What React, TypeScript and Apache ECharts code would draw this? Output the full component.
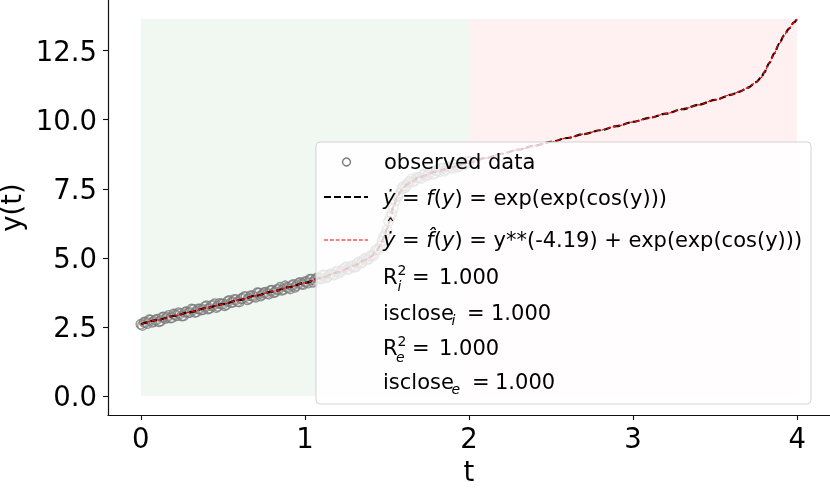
import React, { useEffect, useRef } from "react";
import * as echarts from "echarts";

const xTicks = [0, 1, 2, 3, 4];
const yTicks = [0, 2.5, 5, 7.5, 10, 12.5];

const curveT = [0, 0.1, 0.2, 0.3, 0.4, 0.5, 0.6, 0.7, 0.8, 0.9, 1.0, 1.1, 1.2, 1.3, 1.36, 1.4, 1.44, 1.46, 1.48, 1.5, 1.52, 1.54, 1.56, 1.58, 1.6, 1.62, 1.64, 1.7, 1.8, 1.9, 2.0, 2.1, 2.2, 2.3, 2.4, 2.5, 2.6, 2.7, 2.8, 2.9, 3.0, 3.1, 3.2, 3.3, 3.4, 3.5, 3.6, 3.65, 3.7, 3.75, 3.78, 3.8, 3.83, 3.86, 3.89, 3.92, 3.95, 3.98, 4.0];
const curveY = [2.6, 2.75, 2.9, 3.04, 3.19, 3.33, 3.48, 3.63, 3.78, 3.94, 4.1, 4.28, 4.48, 4.72, 4.9, 5.04, 5.28, 5.46, 5.72, 6.05, 6.45, 6.86, 7.17, 7.38, 7.54, 7.65, 7.74, 7.93, 8.12, 8.29, 8.45, 8.61, 8.77, 8.92, 9.06, 9.2, 9.34, 9.48, 9.62, 9.77, 9.92, 10.07, 10.22, 10.38, 10.54, 10.72, 10.91, 11.02, 11.16, 11.36, 11.52, 11.72, 12.05, 12.4, 12.75, 13.05, 13.3, 13.52, 13.65];

const obsT = [0, 0.02, 0.04, 0.06, 0.08, 0.1, 0.12, 0.14, 0.16, 0.18, 0.2, 0.22, 0.24, 0.26, 0.28, 0.3, 0.32, 0.34, 0.36, 0.38, 0.4, 0.42, 0.44, 0.46, 0.48, 0.5, 0.52, 0.54, 0.56, 0.58, 0.6, 0.62, 0.64, 0.66, 0.68, 0.7, 0.72, 0.74, 0.76, 0.78, 0.8, 0.82, 0.84, 0.86, 0.88, 0.9, 0.92, 0.94, 0.96, 0.98, 1.0, 1.02, 1.04, 1.06, 1.08, 1.1, 1.12, 1.14, 1.16, 1.18, 1.2, 1.22, 1.24, 1.26, 1.28, 1.3, 1.32, 1.34, 1.36, 1.38, 1.4, 1.42, 1.44, 1.46, 1.48, 1.5, 1.52, 1.54, 1.56, 1.58, 1.6, 1.62, 1.64, 1.66, 1.68, 1.7, 1.72, 1.74, 1.76, 1.78, 1.8, 1.82, 1.84, 1.86, 1.88, 1.9, 1.92, 1.94, 1.96, 1.98, 2.0];
const obsY = [2.6, 2.67, 2.63, 2.75, 2.7, 2.78, 2.72, 2.86, 2.85, 2.83, 2.97, 2.91, 2.98, 2.91, 3.05, 3.03, 3.13, 3.05, 3.15, 3.13, 3.27, 3.18, 3.28, 3.21, 3.35, 3.33, 3.31, 3.46, 3.4, 3.49, 3.41, 3.53, 3.6, 3.53, 3.63, 3.58, 3.73, 3.68, 3.76, 3.69, 3.83, 3.78, 3.86, 3.83, 3.99, 3.92, 4.0, 3.94, 4.08, 4.06, 4.14, 4.09, 4.23, 4.19, 4.27, 4.24, 4.37, 4.33, 4.42, 4.38, 4.52, 4.51, 4.63, 4.58, 4.7, 4.67, 4.82, 4.81, 4.95, 4.95, 5.07, 5.09, 5.32, 5.43, 5.77, 6.01, 6.48, 6.81, 7.21, 7.35, 7.59, 7.61, 7.77, 7.76, 7.91, 7.91, 8.02, 7.97, 8.08, 8.03, 8.16, 8.12, 8.24, 8.2, 8.29, 8.24, 8.36, 8.32, 8.43, 8.4, 8.48];

const obsT2 = [0.01, 0.03, 0.05, 0.07, 0.09, 0.11, 0.13, 0.15, 0.17, 0.19, 0.21, 0.23, 0.25, 0.27, 0.29, 0.31, 0.33, 0.35, 0.37, 0.39, 0.41, 0.43, 0.45, 0.47, 0.49, 0.51, 0.53, 0.55, 0.57, 0.59, 0.61, 0.63, 0.65, 0.67, 0.69, 0.71, 0.73, 0.75, 0.77, 0.79, 0.81, 0.83, 0.85, 0.87, 0.89, 0.91, 0.93, 0.95, 0.97, 0.99, 1.01, 1.03, 1.05, 1.07, 1.09, 1.11, 1.13, 1.15, 1.17, 1.19, 1.21, 1.23, 1.25, 1.27, 1.29, 1.31, 1.33, 1.35, 1.37, 1.39, 1.41, 1.43, 1.45, 1.47, 1.49, 1.51, 1.53, 1.55, 1.57, 1.59, 1.61, 1.63, 1.65, 1.67, 1.69, 1.71, 1.73, 1.75, 1.77, 1.79, 1.81, 1.83, 1.85, 1.87, 1.89, 1.91, 1.93, 1.95, 1.97, 1.99];
const obsY2 = [2.56, 2.68, 2.76, 2.67, 2.75, 2.69, 2.85, 2.81, 2.92, 2.84, 2.94, 3.02, 2.9, 3.04, 3.02, 3.15, 3.03, 3.15, 3.12, 3.23, 3.15, 3.27, 3.34, 3.25, 3.33, 3.27, 3.43, 3.39, 3.5, 3.42, 3.52, 3.6, 3.49, 3.63, 3.61, 3.74, 3.62, 3.74, 3.71, 3.82, 3.74, 3.86, 3.94, 3.86, 3.94, 3.88, 4.04, 4.0, 4.11, 4.04, 4.14, 4.23, 4.12, 4.27, 4.25, 4.38, 4.28, 4.41, 4.39, 4.51, 4.45, 4.58, 4.68, 4.61, 4.71, 4.67, 4.86, 4.85, 5.0, 4.96, 5.11, 5.28, 5.3, 5.62, 5.87, 6.33, 6.6, 7.05, 7.25, 7.51, 7.54, 7.73, 7.86, 7.8, 7.91, 7.87, 8.04, 8.01, 8.13, 8.05, 8.16, 8.24, 8.14, 8.28, 8.27, 8.39, 8.28, 8.4, 8.37, 8.49];

const trainRegion = [0, 2];
const testRegion = [2, 4];
const regionTop = 13.65;

const FONT = "DejaVu Sans";

export default function App() {
  const ref = useRef<HTMLDivElement>(null);
  useEffect(() => {
    const chart = echarts.init(ref.current!, null, { renderer: "svg" });
    const curve = curveT.map((t, i) => [t, curveY[i]]);
    const obsA = obsT.map((t, i) => [t, obsY[i]]);
    const obsB = obsT2.map((t, i) => [t, obsY2[i]]);
    const obs: number[][] = [];
    for (let i = 0; i < obsA.length; i++) {
      obs.push(obsA[i]);
      if (i < obsB.length) obs.push(obsB[i]);
    }
    const lx = 383;
    const txt = (text: string, x: number, y: number, extra: any = {}) => ({
      type: "text",
      z: 101,
      x,
      y,
      style: {
        text,
        fontFamily: FONT,
        fontSize: 21,
        fill: "#000",
        verticalAlign: "middle",
        align: "left",
        ...extra,
      },
    });
    const rich = { it: { fontStyle: "italic", fontFamily: FONT, fontSize: 21 } };
    const option: any = {
      animation: false,
      textStyle: { fontFamily: FONT },
      grid: { left: 108, right: 0, top: 0, bottom: 73, containLabel: false, outerBoundsMode: "none" },
      xAxis: {
        type: "value",
        min: -0.2,
        max: 4.2,
        name: "t",
        nameLocation: "middle",
        nameGap: 40,
        nameTextStyle: { fontSize: 27.5, color: "#000", fontFamily: FONT },
        axisLine: { show: true, onZero: false, lineStyle: { color: "#111", width: 1.2 } },
        axisTick: { show: true, length: 5, customValues: xTicks, lineStyle: { color: "#111", width: 1.1 } },
        axisLabel: { customValues: xTicks, margin: 9, fontSize: 27.5, color: "#000", fontFamily: FONT, formatter: (v: number) => String(v) },
        splitLine: { show: false },
      },
      yAxis: {
        type: "value",
        min: -0.6825,
        max: 14.3325,
        name: "y(t)",
        nameLocation: "middle",
        nameGap: 72,
        nameTextStyle: { fontSize: 27.5, color: "#000", fontFamily: FONT },
        axisLine: { show: true, onZero: false, lineStyle: { color: "#111", width: 1.2 } },
        axisTick: { show: true, length: 5, customValues: yTicks, lineStyle: { color: "#111", width: 1.1 } },
        axisLabel: { customValues: yTicks, margin: 11, fontSize: 27.5, color: "#000", fontFamily: FONT, formatter: (v: number) => v.toFixed(1) },
        splitLine: { show: false },
      },
      series: [
        {
          type: "scatter",
          name: "observed data",
          z: 2,
          data: obs,
          symbol: "circle",
          symbolSize: 9.5,
          itemStyle: { color: "rgba(255,255,255,0.15)", borderColor: "#7a7a7a", borderWidth: 1.4 },
          markArea: {
            silent: true,
            data: [
              [
                { xAxis: trainRegion[0], yAxis: 0, itemStyle: { color: "rgba(0,128,0,0.055)" } },
                { xAxis: trainRegion[1], yAxis: regionTop },
              ],
              [
                { xAxis: testRegion[0], yAxis: 0, itemStyle: { color: "rgba(255,0,0,0.055)" } },
                { xAxis: testRegion[1], yAxis: regionTop },
              ],
            ],
          },
        },
        {
          type: "line",
          name: "true",
          z: 3,
          data: curve,
          showSymbol: false,
          smooth: 0.3,
          smoothMonotone: "x",
          lineStyle: { color: "#000", width: 2.2, type: [7, 3] },
        },
        {
          type: "line",
          name: "fit",
          z: 4,
          data: curve,
          showSymbol: false,
          smooth: 0.3,
          smoothMonotone: "x",
          lineStyle: { color: "#ff0000", width: 1.2, type: [4, 1.8] },
        },
      ],
      graphic: [
        {
          type: "rect",
          z: 100,
          shape: { x: 316, y: 142, width: 495, height: 262, r: 4 },
          style: { fill: "rgba(255,255,255,0.8)", stroke: "#d3d3d3", lineWidth: 1 },
        },
        {
          type: "circle",
          z: 101,
          shape: { cx: 346.5, cy: 162, r: 4 },
          style: { fill: "rgba(255,255,255,0)", stroke: "#7a7a7a", lineWidth: 1.4 },
        },
        {
          type: "line",
          z: 101,
          shape: { x1: 324, y1: 197, x2: 368, y2: 197 },
          style: { stroke: "#000", lineWidth: 2.2, lineDash: [7, 3] },
        },
        {
          type: "line",
          z: 101,
          shape: { x1: 324, y1: 240, x2: 368, y2: 240 },
          style: { stroke: "#ff0000", lineWidth: 1.2, lineDash: [4, 1.8] },
        },
        txt("observed data", lx + 1, 162),
        txt("{it|ẏ} = {it|f}({it|y}) = exp(exp(cos(y)))", lx, 198, { rich }),
        txt("{it|ẏ} = {it|f\u0302}({it|y}) = y**(-4.19) + exp(exp(cos(y)))", lx, 240, { rich }),
        txt("\u02C6", lx + 3, 225, { fontSize: 18 }),
        // R_i^2
        txt("R", lx, 277),
        txt("2", lx + 14.5, 270, { fontSize: 14 }),
        txt("i", lx + 14.5, 286, { fontSize: 14, fontStyle: "italic" }),
        txt("=", 412, 277),
        txt("1.000", 439, 277),
        // isclose_i
        txt("isclose", lx, 313),
        txt("i", 451.5, 320, { fontSize: 14, fontStyle: "italic" }),
        txt("=", 467, 313),
        txt("1.000", 491, 313),
        // R_e^2
        txt("R", lx, 348),
        txt("2", lx + 14.5, 341, { fontSize: 14 }),
        txt("e", lx + 13, 357, { fontSize: 14, fontStyle: "italic" }),
        txt("=", 412, 348),
        txt("1.000", 439, 348),
        // isclose_e
        txt("isclose", lx, 382),
        txt("e", 451.5, 389, { fontSize: 14, fontStyle: "italic" }),
        txt("=", 472, 382),
        txt("1.000", 495, 382),
      ],
    };
    chart.setOption(option);
    return () => chart.dispose();
  }, []);
  return <div ref={ref} style={{ position: "fixed", left: 0, top: 0, width: 830, height: 488 }} />;
}
